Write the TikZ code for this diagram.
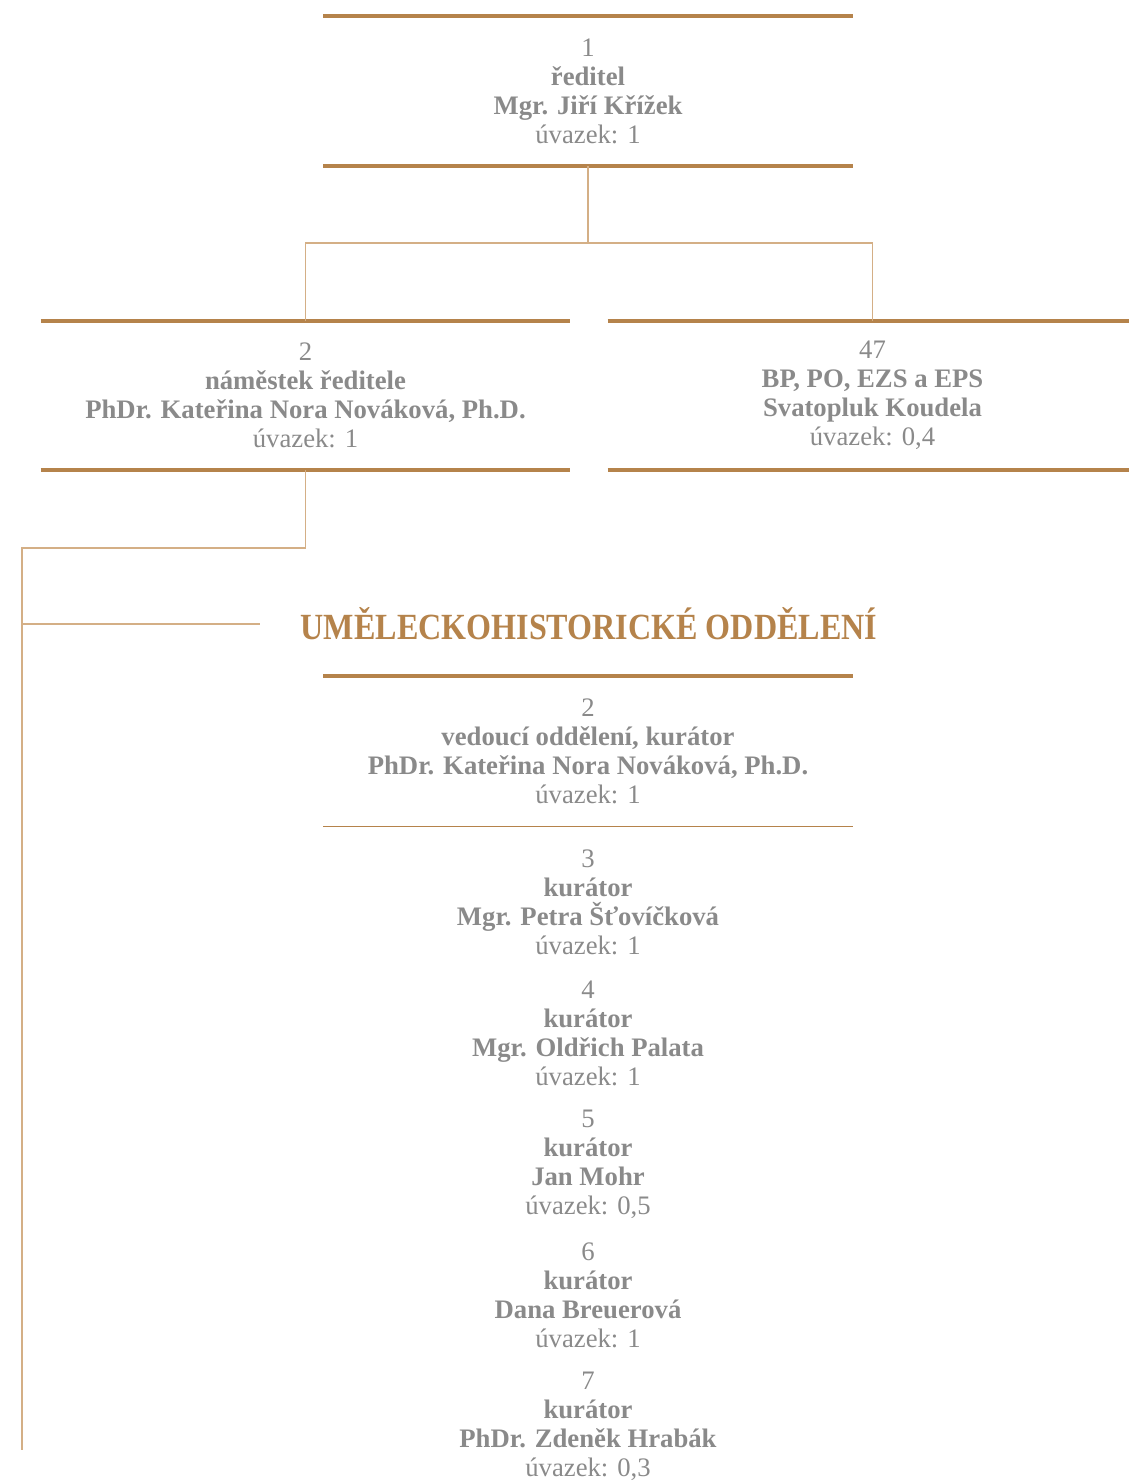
\documentclass[tikz,border=0pt]{standalone}
\usepackage{fontspec}
\setmainfont{Liberation Serif}
\definecolor{bronze}{HTML}{B5834B}
\definecolor{tanline}{HTML}{D4AF86}
\definecolor{txtgray}{HTML}{8A8A8A}
\begin{document}
\begin{tikzpicture}[x=0.02cm, y=-0.02cm,
  person/.style={align=center, text=txtgray, inner sep=0pt,
    minimum width=10.58cm, font=\fontsize{15.2}{16.5}\selectfont},
  rulethick/.style={bronze, line width=2.2pt},
  rulethin/.style={bronze, line width=0.7pt},
  link/.style={tanline, line width=0.7pt}]
  \useasboundingbox (0,0) rectangle (1129,1481);
  \def\gap{131}

  \node[person, minimum height=3cm] (dir) at (588, 91) {1\\\textbf{ředitel}\\\textbf{Mgr. Jiří Křížek}\\úvazek: 1};
  \node[person, minimum height=2.98cm] (dep) at (305.5, 395.5) {2\\\textbf{náměstek ředitele}\\\textbf{PhDr. Kateřina Nora Nováková, Ph.D.}\\úvazek: 1};
  \node[person, minimum height=2.98cm] (bp) at (872.5, 395.5) {47\\\textbf{BP, PO, EZS a EPS}\\\textbf{Svatopluk Koudela}\\úvazek: 0,4};

  \node[text=bronze, inner sep=0pt, font=\fontsize{21}{24}\selectfont\bfseries] (title) at (589, 624) {\scalebox{0.87}[1]{UMĚLECKOHISTORICKÉ ODDĚLENÍ}};

  \node[person, minimum height=3cm] (head) at (588, 751) {2\\\textbf{vedoucí oddělení, kurátor}\\\textbf{PhDr. Kateřina Nora Nováková, Ph.D.}\\úvazek: 1};
  \node[person] (k3) at (588, 902) {3\\\textbf{kurátor}\\\textbf{Mgr. Petra Šťovíčková}\\úvazek: 1};
  \node[person] (k4) at (588, 902 + \gap) {4\\\textbf{kurátor}\\\textbf{Mgr. Oldřich Palata}\\úvazek: 1};
  \node[person] (k5) at (588, 902 + 2 * \gap) {5\\\textbf{kurátor}\\\textbf{Jan Mohr}\\úvazek: 0,5};
  \node[person] (k6) at (588, 902 + 3 * \gap) {6\\\textbf{kurátor}\\\textbf{Dana Breuerová}\\úvazek: 1};
  \node[person] (k7) at (588, 902 + 4 * \gap) {7\\\textbf{kurátor}\\\textbf{PhDr. Zdeněk Hrabák}\\úvazek: 0,3};

  % rules above and below the boxes
  \draw[rulethick] (dir.north west) -- (dir.north east);
  \draw[rulethick] (dir.south west) -- (dir.south east);
  \draw[rulethick] (dep.north west) -- (dep.north east);
  \draw[rulethick] (dep.south west) -- (dep.south east);
  \draw[rulethick] (bp.north west) -- (bp.north east);
  \draw[rulethick] (bp.south west) -- (bp.south east);
  \draw[rulethick] (head.north west) -- (head.north east);
  \draw[rulethin] (head.south west) -- (head.south east);

  % connectors
  \coordinate (j1) at (588, 243);
  \coordinate (j2) at (22, 548);
  \coordinate (j3) at (22, 624);
  \coordinate (j4) at (22, 1450);
  \draw[link] (dir.south) -- (j1);
  \draw[link] (dep.north) |- (j1) -| (bp.north);
  \draw[link] (dep.south) |- (j2) -- (j4);
  \draw[link, shorten >=0.8cm] (j3) -- (title.west);
\end{tikzpicture}
\end{document}
